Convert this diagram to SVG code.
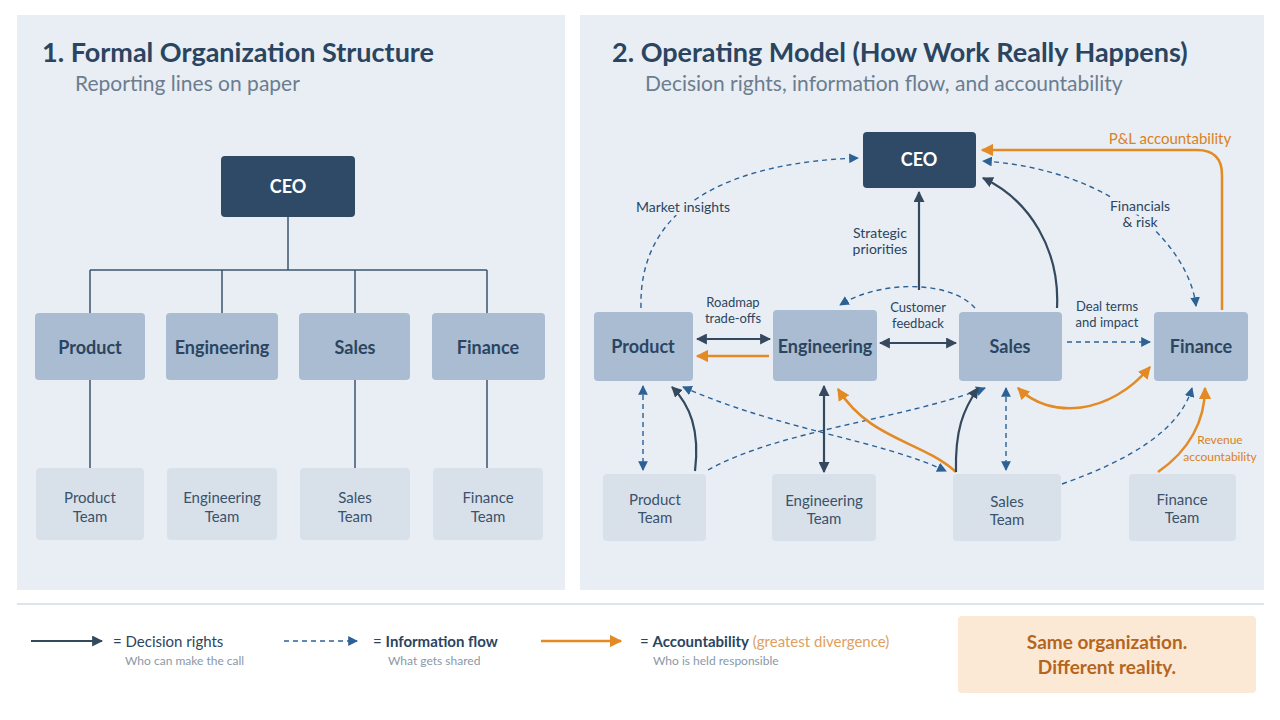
<svg xmlns="http://www.w3.org/2000/svg" width="1280" height="720" viewBox="0 0 1280 720">
<defs>
<style>
text{font-family:Lato,"Liberation Sans",sans-serif}
.t{font-size:27px;font-weight:bold;fill:#2b4560}
.st{font-size:21px;fill:#6b7d8f}
.ceo{fill:#2f4a66}
.ceot{fill:#fff;font-size:18px;font-weight:bold;text-anchor:middle}
.l2{fill:#a9bcd2}
.l2t{fill:#2b4560;font-size:18px;font-weight:bold;text-anchor:middle}
.l3{fill:#d8e1ea}
.l3t{fill:#3b526b;font-size:15px;text-anchor:middle}
.tree{stroke:#3d566f;stroke-width:1.5;fill:none}
.dec{stroke:#34495e;stroke-width:2.2;fill:none}
.inf{stroke:#2c6196;stroke-width:1.4;stroke-dasharray:5 4;fill:none}
.acc{stroke:#e38a24;stroke-width:2.5;fill:none}
.lbl{font-size:13px;fill:#2b4560;text-anchor:middle;stroke:#e8eef4;stroke-width:7;paint-order:stroke;stroke-linejoin:round}
.olbl{font-size:13px;fill:#d9821e;text-anchor:middle;stroke:#e8eef4;stroke-width:7;paint-order:stroke;stroke-linejoin:round}
.lg{font-size:15px;fill:#2b4560}
.lgs{font-size:12px;fill:#8a98a6}
</style>
<marker id="md" viewBox="0 0 10 10" refX="9" refY="5" markerWidth="5" markerHeight="5" orient="auto-start-reverse"><path d="M0,0L10,5L0,10z" fill="#34495e"/></marker>
<marker id="mi" viewBox="0 0 10 10" refX="9" refY="5" markerWidth="7" markerHeight="7" orient="auto-start-reverse"><path d="M0,0L10,5L0,10z" fill="#2c6196"/></marker>
<marker id="ma" viewBox="0 0 10 10" refX="9" refY="5" markerWidth="5" markerHeight="5" orient="auto-start-reverse"><path d="M0,0L10,5L0,10z" fill="#e38a24"/></marker>
</defs>
<rect width="1280" height="720" fill="#ffffff"/>
<rect x="17" y="15" width="548" height="575" fill="#e8eef4"/>
<rect x="580" y="15" width="684" height="575" fill="#e8eef4"/>
<text x="42" y="62" class="t">1. Formal Organization Structure</text>
<text x="75" y="91" class="st">Reporting lines on paper</text>
<text x="612" y="62" class="t">2. Operating Model (How Work Really Happens)</text>
<text x="645" y="91" class="st">Decision rights, information flow, and accountability</text>

<g id="tree">
<path class="tree" d="M288,217V270M90,270H487M90,270V313M222,270V313M355,270V313M487,270V313M90,380V468M355,380V468M487,380V468"/>
</g>
<g id="l-ceo"><rect x="221" y="156" width="134" height="61" rx="4" class="ceo"/><text x="288" y="193" class="ceot">CEO</text></g>
<g id="l-product"><rect x="35" y="313" width="110" height="67" rx="4" class="l2"/><text x="90" y="354" class="l2t">Product</text></g>
<g id="l-engineering"><rect x="166" y="313" width="112" height="67" rx="4" class="l2"/><text x="222" y="354" class="l2t">Engineering</text></g>
<g id="l-sales"><rect x="299" y="313" width="111" height="67" rx="4" class="l2"/><text x="355" y="354" class="l2t">Sales</text></g>
<g id="l-finance"><rect x="432" y="313" width="113" height="67" rx="4" class="l2"/><text x="488" y="354" class="l2t">Finance</text></g>
<g id="l-pt"><rect x="36" y="468" width="108" height="72" rx="4" class="l3"/><text x="90" y="503" class="l3t">Product</text><text x="90" y="522" class="l3t">Team</text></g>
<g id="l-et"><rect x="167" y="468" width="110" height="72" rx="4" class="l3"/><text x="222" y="503" class="l3t">Engineering</text><text x="222" y="522" class="l3t">Team</text></g>
<g id="l-st"><rect x="300" y="468" width="110" height="72" rx="4" class="l3"/><text x="355" y="503" class="l3t">Sales</text><text x="355" y="522" class="l3t">Team</text></g>
<g id="l-ft"><rect x="433" y="468" width="110" height="72" rx="4" class="l3"/><text x="488" y="503" class="l3t">Finance</text><text x="488" y="522" class="l3t">Team</text></g>

<g id="r-ceo"><rect x="863" y="132" width="113" height="56" rx="4" class="ceo"/><text x="919" y="166" class="ceot">CEO</text></g>
<g id="r-product"><rect x="594" y="312" width="99" height="69" rx="4" class="l2"/><text x="643" y="353" class="l2t">Product</text></g>
<g id="r-engineering"><rect x="773" y="310" width="104" height="71" rx="4" class="l2"/><text x="825" y="353" class="l2t">Engineering</text></g>
<g id="r-sales"><rect x="959" y="312" width="103" height="69" rx="4" class="l2"/><text x="1010" y="353" class="l2t">Sales</text></g>
<g id="r-finance"><rect x="1154" y="312" width="94" height="69" rx="4" class="l2"/><text x="1201" y="353" class="l2t">Finance</text></g>
<g id="r-pt"><rect x="603" y="474" width="103" height="67" rx="4" class="l3"/><text x="655" y="505" class="l3t">Product</text><text x="655" y="523" class="l3t">Team</text></g>
<g id="r-et"><rect x="772" y="474" width="104" height="67" rx="4" class="l3"/><text x="824" y="506" class="l3t">Engineering</text><text x="824" y="524" class="l3t">Team</text></g>
<g id="r-st"><rect x="953" y="474" width="108" height="67" rx="4" class="l3"/><text x="1007" y="507" class="l3t">Sales</text><text x="1007" y="525" class="l3t">Team</text></g>
<g id="r-ft"><rect x="1129" y="474" width="107" height="67" rx="4" class="l3"/><text x="1182" y="505" class="l3t">Finance</text><text x="1182" y="523" class="l3t">Team</text></g>

<g id="connectors">
<path class="inf" d="M641,308C638,200 740,162 858,158" marker-end="url(#mi)"/>
<path class="dec" d="M919,290V192" marker-end="url(#md)"/>
<path class="inf" d="M975,308C950,280 880,280 840,305" marker-end="url(#mi)"/>
<path class="dec" d="M1057,308C1060,250 1030,200 983,178" marker-end="url(#md)"/>
<path class="inf" d="M1196,306C1190,250 1120,170 983,161" marker-start="url(#mi)" marker-end="url(#mi)"/>
<path class="acc" d="M1222,310V175Q1222,150 1197,150H982" marker-end="url(#ma)"/>
<path class="dec" d="M697,339H770" marker-start="url(#md)" marker-end="url(#md)"/>
<path class="acc" d="M769,356H697" marker-end="url(#ma)"/>
<path class="dec" d="M880,343H956" marker-start="url(#md)" marker-end="url(#md)"/>
<path class="inf" d="M1067,342H1150" marker-end="url(#mi)"/>
<path class="acc" d="M1018,388C1050,420 1110,415 1150,367" marker-start="url(#ma)" marker-end="url(#ma)"/>
<path class="inf" d="M643,386V470" marker-start="url(#mi)" marker-end="url(#mi)"/>
<path class="dec" d="M695,471C700,430 690,405 672,387" marker-end="url(#md)"/>
<path class="inf" d="M708,470C780,430 900,420 985,388" marker-end="url(#mi)"/>
<path class="inf" d="M683,387C780,430 880,440 946,471" marker-start="url(#mi)" marker-end="url(#mi)"/>
<path class="dec" d="M824,386V472" marker-start="url(#md)" marker-end="url(#md)"/>
<path class="acc" d="M956,472C920,440 870,440 838,389" marker-end="url(#ma)"/>
<path class="dec" d="M956,472C955,430 963,410 978,388" marker-end="url(#md)"/>
<path class="inf" d="M1006,388V470" marker-start="url(#mi)" marker-end="url(#mi)"/>
<path class="inf" d="M1062,484C1130,460 1180,430 1192,388" marker-end="url(#mi)"/>
<path class="acc" d="M1158,472C1190,450 1205,420 1205,388" marker-end="url(#ma)"/>
<text x="683" y="212" class="lbl" style="font-size:14px">Market insights</text>
<text x="880" y="238" class="lbl" style="font-size:14px">Strategic</text>
<text x="880" y="254" class="lbl" style="font-size:14px">priorities</text>
<text x="1140" y="211" class="lbl" style="font-size:14px">Financials</text>
<text x="1140" y="227" class="lbl" style="font-size:14px">&amp; risk</text>
<text x="1170" y="144" class="olbl" style="font-size:15px">P&amp;L accountability</text>
<text x="733" y="307" class="lbl">Roadmap</text>
<text x="733" y="323" class="lbl">trade-offs</text>
<text x="918" y="312" class="lbl">Customer</text>
<text x="918" y="328" class="lbl">feedback</text>
<text x="1107" y="311" class="lbl">Deal terms</text>
<text x="1107" y="327" class="lbl">and impact</text>
<text x="1220" y="444" class="olbl" style="font-size:12px">Revenue</text>
<text x="1220" y="461" class="olbl" style="font-size:12px">accountability</text>
</g>

<g id="legend">
<path d="M17,604H1264" stroke="#d5dbe1" stroke-width="1.5"/>
<path d="M31,641H102" class="dec" stroke-width="3" marker-end="url(#md)"/>
<text x="113" y="647" class="lg">= Decision rights</text>
<text x="125" y="665" class="lgs">Who can make the call</text>
<path d="M284,641H357" class="inf" marker-end="url(#mi)"/>
<text x="373" y="647" class="lg">= <tspan font-weight="bold">Information flow</tspan></text>
<text x="388" y="665" class="lgs">What gets shared</text>
<path d="M541,641H621" class="acc" stroke-width="3" marker-end="url(#ma)"/>
<text x="640" y="647" class="lg">= <tspan font-weight="bold">Accountability</tspan> <tspan fill="#e0a060">(greatest divergence)</tspan></text>
<text x="653" y="665" class="lgs">Who is held responsible</text>
<rect x="958" y="616" width="298" height="77" rx="4" fill="#fbe9d6"/>
<text x="1107" y="649" text-anchor="middle" font-size="19" font-weight="bold" fill="#b5651d">Same organization.</text>
<text x="1107" y="674" text-anchor="middle" font-size="19" font-weight="bold" fill="#b5651d">Different reality.</text>
</g>
</svg>
